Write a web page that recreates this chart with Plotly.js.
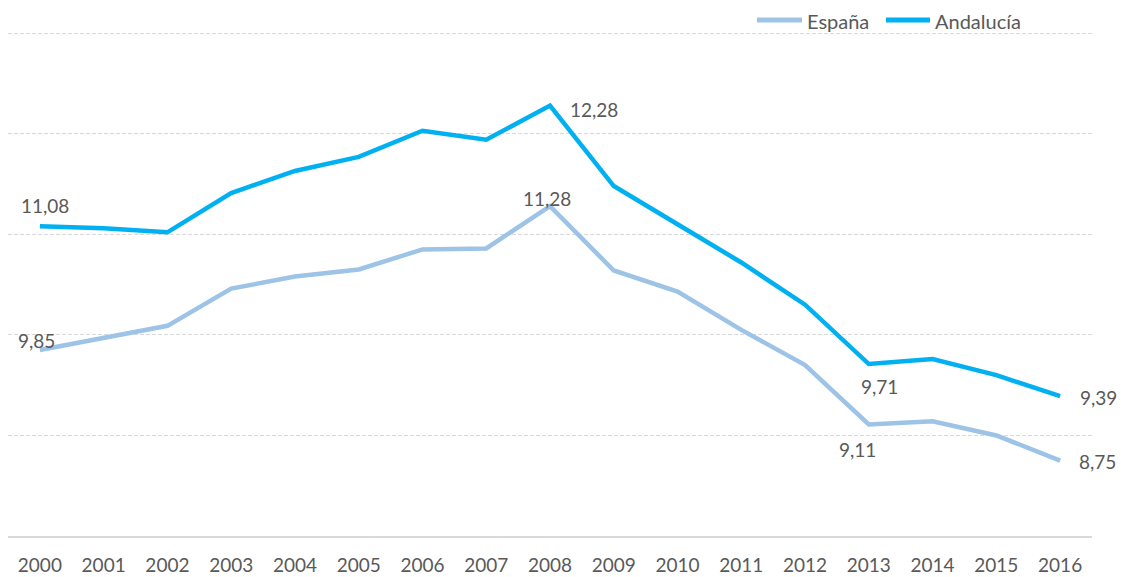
<!DOCTYPE html>
<html>
<head>
<meta charset="utf-8">
<script src="https://cdn.plot.ly/plotly-3.0.1.min.js"></script>
<style>html,body{margin:0;padding:0;background:#fff;}#chart{width:1121px;height:577px;}</style>
</head>
<body>
<div id="chart"></div>
<script>
const years = ['2000','2001','2002','2003','2004','2005','2006','2007','2008','2009','2010','2011','2012','2013','2014','2015','2016'];
const espana = [9.85, 9.97, 10.09, 10.46, 10.58, 10.65, 10.85, 10.86, 11.28, 10.64, 10.43, 10.05, 9.70, 9.11, 9.14, 9.00, 8.75];
const andalucia = [11.08, 11.06, 11.02, 11.41, 11.63, 11.77, 12.03, 11.94, 12.28, 11.48, 11.10, 10.72, 10.30, 9.71, 9.76, 9.60, 9.39];
const seriesNames = ['España', 'Andalucía'];

const fontFam = 'Lato, "Liberation Sans", sans-serif';
const txtColor = '#595959';
const colEsp = '#9DC3E6';
const colAnd = '#00B0F0';

function fmt(v){ return v.toFixed(2).replace('.', ','); }

// labelled points: [seriesArray, index, xanchor, xshift, yshift]
const labelSpecs = [
  [andalucia, 0, 'center', 5, 21],
  [andalucia, 8, 'left', 18, -4],
  [andalucia, 13, 'center', 11, -22],
  [andalucia, 16, 'left', 18, -1],
  [espana, 0, 'center', -3, 9],
  [espana, 8, 'center', -3, 8],
  [espana, 13, 'center', -11, -25],
  [espana, 16, 'left', 17, -1]
];

const annotations = labelSpecs.map(s => ({
  x: s[1], y: s[0][s[1]], xref: 'x', yref: 'y',
  text: fmt(s[0][s[1]]), showarrow: false,
  xanchor: s[2], yanchor: 'middle', xshift: s[3], yshift: s[4],
  font: {family: fontFam, size: 19, color: txtColor}
}));

// custom legend (pixel positions converted to paper coordinates)
const plotL = 8, plotW = 1084, plotH = 536;
const px = v => (v - plotL) / plotW;
const py = v => (plotH - v) / plotH;
const legendItems = [
  {name: seriesNames[0], color: colEsp, x0: 757, x1: 802, tx: 805},
  {name: seriesNames[1], color: colAnd, x0: 886, x1: 930, tx: 933}
];
const shapes = [];
legendItems.forEach(it => {
  shapes.push({type: 'line', xref: 'paper', yref: 'paper', x0: px(it.x0), x1: px(it.x1),
    y0: py(20), y1: py(20), line: {color: it.color, width: 5}, layer: 'above'});
  annotations.push({xref: 'paper', yref: 'paper', x: px(it.tx), y: py(21), xanchor: 'left',
    yanchor: 'middle', text: it.name, showarrow: false,
    font: {family: fontFam, size: 20, color: txtColor}});
});

const traces = [
  {x: years, y: espana, name: seriesNames[0], type: 'scatter', mode: 'lines',
   line: {color: colEsp, width: 4.5}, hoverinfo: 'skip'},
  {x: years, y: andalucia, name: seriesNames[1], type: 'scatter', mode: 'lines',
   line: {color: colAnd, width: 4.5}, hoverinfo: 'skip'}
];

const layout = {
  width: 1121, height: 577,
  margin: {l: 8, r: 29, t: 0, b: 41, pad: 0},
  paper_bgcolor: '#ffffff', plot_bgcolor: '#ffffff',
  showlegend: false,
  xaxis: {type: 'category', range: [-0.5, 16.5], showgrid: false, zeroline: false,
    showline: true, linecolor: '#d9d9d9', linewidth: 1.5, ticks: '',
    ticklabelstandoff: 12,
    tickfont: {family: fontFam, size: 19, color: txtColor}, fixedrange: true},
  yaxis: {range: [8, 13.33], tickvals: [8, 9, 10, 11, 12, 13], showgrid: true, gridcolor: '#d9d9d9',
    griddash: '4px,2px', gridwidth: 1, zeroline: false, showticklabels: false, ticks: '',
    fixedrange: true},
  shapes: shapes,
  annotations: annotations
};

Plotly.newPlot('chart', traces, layout, {displayModeBar: false, staticPlot: true});
</script>
</body>
</html>
